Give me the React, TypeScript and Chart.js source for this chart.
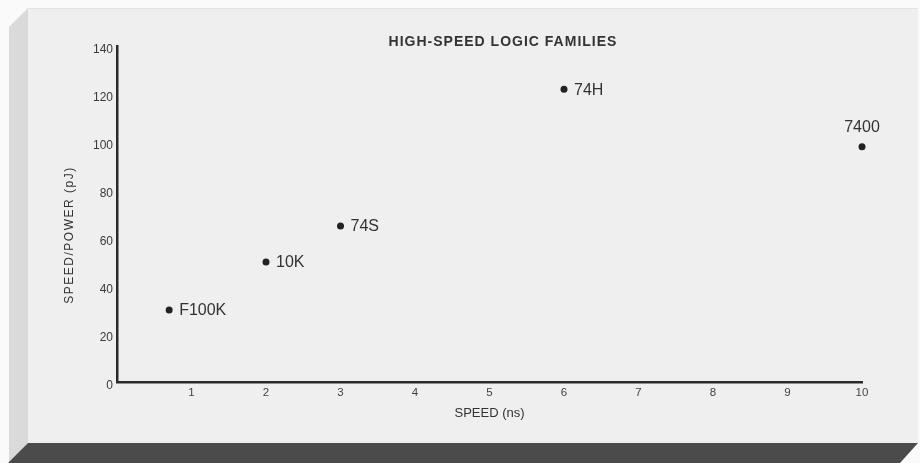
import React, { useEffect, useRef } from "react";
import { Chart, registerables } from "chart.js";

Chart.register(...registerables);

// ---- data ----
const families = ["F100K", "10K", "74S", "74H", "7400"];
const speedNs = [0.7, 2, 3, 6, 10];
const speedPowerPj = [30, 50, 65, 122, 98];
const labelSides = ["right", "right", "right", "right", "above"];
const xTickValues = [0, 1, 2, 3, 4, 5, 6, 7, 8, 9, 10];
const yTickValues = [0, 20, 40, 60, 80, 100, 120, 140];
const chartTitle = "HIGH-SPEED LOGIC FAMILIES";
const xAxisTitle = "SPEED (ns)";
const yAxisTitle = "SPEED/POWER (pJ)";

const FONT = "'Liberation Sans', Arial, Helvetica, sans-serif";
const INK = "#333";

const panelPlugin = {
  id: "panel",
  beforeDraw(chart: any) {
    const ctx = chart.ctx;
    const W = chart.width;
    const H = chart.height;
    ctx.save();
    ctx.fillStyle = "#fafafa";
    ctx.fillRect(0, 0, W, H);
    // left bevel
    ctx.fillStyle = "#dadada";
    ctx.beginPath();
    ctx.moveTo(28, 8);
    ctx.lineTo(9, 27);
    ctx.lineTo(9, 463);
    ctx.lineTo(28, 443);
    ctx.closePath();
    ctx.fill();
    // front face
    ctx.fillStyle = "#efefef";
    ctx.fillRect(28, 8, 890, 435);
    ctx.strokeStyle = "#e2e2e2";
    ctx.lineWidth = 1;
    ctx.beginPath();
    ctx.moveTo(28, 8.5);
    ctx.lineTo(918, 8.5);
    ctx.stroke();
    // bottom dark band
    ctx.fillStyle = "#4b4b4b";
    ctx.beginPath();
    ctx.moveTo(28, 443);
    ctx.lineTo(918, 443);
    ctx.lineTo(900, 463);
    ctx.lineTo(8, 463);
    ctx.closePath();
    ctx.fill();
    ctx.restore();
  },
};

const textPlugin = {
  id: "texts",
  afterDatasetsDraw(chart: any) {
    const ctx = chart.ctx;
    ctx.save();
    ctx.fillStyle = INK;
    // point labels
    const meta = chart.getDatasetMeta(0);
    ctx.font = `16px ${FONT}`;
    meta.data.forEach((pt: any, i: number) => {
      const side = labelSides[i];
      if (side === "above") {
        ctx.textAlign = "center";
        ctx.textBaseline = "bottom";
        ctx.fillText(families[i], pt.x, pt.y - 11);
      } else {
        ctx.textAlign = "left";
        ctx.textBaseline = "middle";
        ctx.fillText(families[i], pt.x + 10, pt.y + 1);
      }
    });
    // chart title
    ctx.font = `bold 14px ${FONT}`;
    (ctx as any).letterSpacing = "1px";
    ctx.textAlign = "center";
    ctx.textBaseline = "middle";
    ctx.fillText(chartTitle, 503, 42);
    // y axis title
    ctx.font = `12px ${FONT}`;
    (ctx as any).letterSpacing = "1.5px";
    ctx.translate(70, 235);
    ctx.rotate(-Math.PI / 2);
    ctx.textAlign = "center";
    ctx.textBaseline = "middle";
    ctx.fillText(yAxisTitle, 0, 0);
    (ctx as any).letterSpacing = "0px";
    ctx.restore();
  },
};

export default function App() {
  const ref = useRef<HTMLCanvasElement | null>(null);

  useEffect(() => {
    if (!ref.current) return;
    const chart = new Chart(ref.current, {
      type: "scatter",
      data: {
        datasets: [
          {
            label: "Logic families",
            data: speedNs.map((x, i) => ({ x, y: speedPowerPj[i] })),
            backgroundColor: "#222",
            borderColor: "#222",
            borderWidth: 0,
            pointRadius: 3.5,
            pointHoverRadius: 3.5,
            clip: false,
          } as any,
        ],
      },
      options: {
        responsive: false,
        animation: false,
        events: [],
        layout: { padding: { left: 28, right: 58, top: 46, bottom: 31 } },
        plugins: {
          legend: { display: false },
          tooltip: { enabled: false },
          title: { display: false },
        },
        scales: {
          x: {
            type: "linear",
            min: 0,
            max: 10,
            afterFit: (s: any) => {
              s.height = 50;
            },
            afterBuildTicks: (s: any) => {
              s.ticks = xTickValues.map((v) => ({ value: v }));
            },
            grid: { display: false, drawTicks: false },
            border: { display: true, color: "#2a2a2a", width: 2.5 },
            ticks: {
              padding: 4,
              autoSkip: false,
              maxRotation: 0,
              color: "#444",
              font: { family: FONT, size: 11.5 },
              callback: (v: any) => (v === 0 ? "" : String(v)),
            },
            title: {
              display: true,
              text: xAxisTitle,
              color: INK,
              font: { family: FONT, size: 13 },
              padding: { top: 0, bottom: 11 },
            },
          },
          y: {
            type: "linear",
            min: 0,
            max: 140,
            afterFit: (s: any) => {
              s.width = 89;
            },
            afterBuildTicks: (s: any) => {
              s.ticks = yTickValues.map((v) => ({ value: v }));
            },
            grid: { display: false, drawTicks: false },
            border: { display: true, color: "#2a2a2a", width: 2.5 },
            ticks: {
              padding: 4,
              labelOffset: 4,
              autoSkip: false,
              color: "#3a3a3a",
              font: { family: FONT, size: 12 },
            },
          },
        },
      },
      plugins: [panelPlugin, textPlugin],
    });
    return () => chart.destroy();
  }, []);

  return (
    <div style={{ position: "absolute", left: 0, top: 0, width: 920, height: 463 }}>
      <canvas ref={ref} width={920} height={463} style={{ display: "block" }} />
    </div>
  );
}
